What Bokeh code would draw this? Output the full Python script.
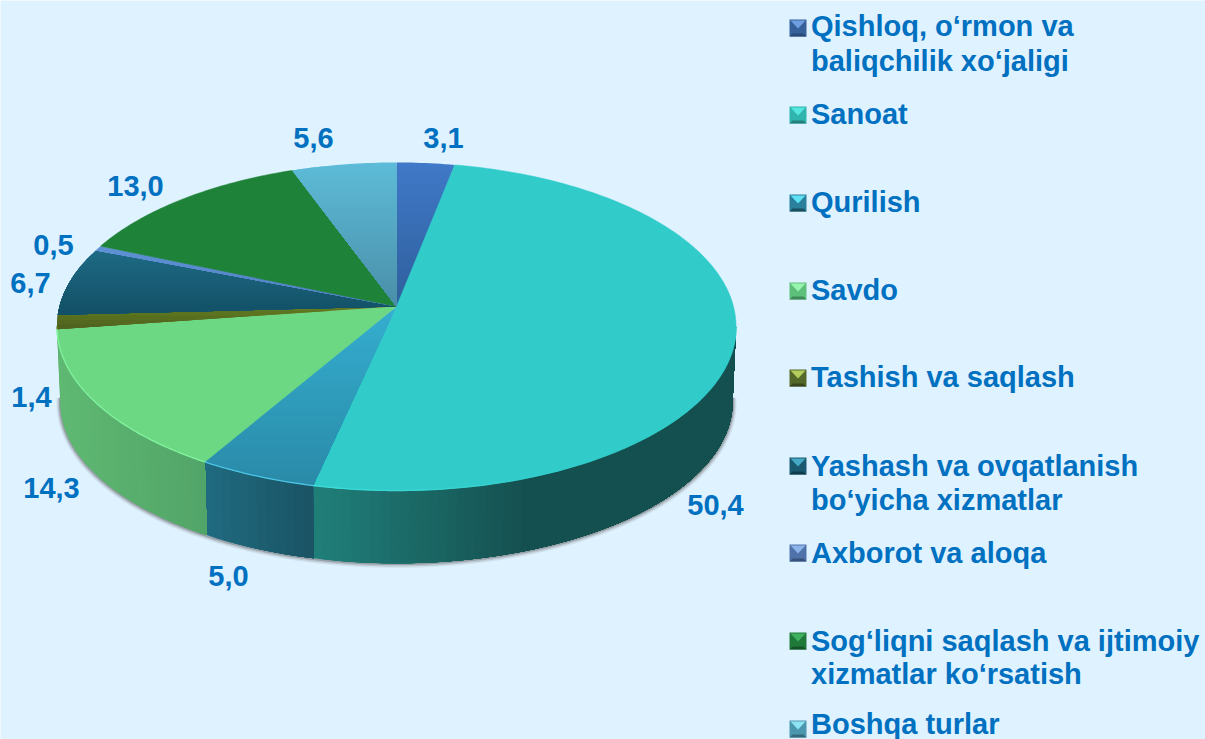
import math
from bokeh.plotting import figure
from bokeh.models import Range1d
from bokeh.embed import file_html
from bokeh.resources import INLINE
from bokeh.core.properties import value

categories = ["Qishloq, o‘rmon va\nbaliqchilik xo‘jaligi", "Sanoat", "Qurilish", "Savdo", "Tashish va saqlash",
              "Yashash va ovqatlanish\nbo‘yicha xizmatlar", "Axborot va aloqa",
              "Sog‘liqni saqlash va ijtimoiy\nxizmatlar ko‘rsatish", "Boshqa turlar"]
values = [3.1, 50.4, 5.0, 14.3, 1.4, 6.7, 0.5, 13.0, 5.6]
labels = ["3,1", "50,4", "5,0", "14,3", "1,4", "6,7", "0,5", "13,0", "5,6"]

# styling
BG = "#dff2ff"
TEXT = "#0070c0"
top_hi = ["#4079c8", "#31ccca", "#35aed0", "#6cd884", "#627d20", "#1e6a85", "#5f92d6", "#1f8239", "#5dbcd8"]
top_lo = ["#2f5f9c", "#31ccca", "#2a8aa8", "#6cd884", "#4f5f1e", "#125066", "#4f7fc0", "#1f8239", "#4a8ea8"]
side_a = ["#2f5f9c", "#207f7a", "#206b80", "#5fb972", "#4f5f1e", "#125066", "#4f7fc0", "#1a6a30", "#4a8ea8"]
side_b = ["#2f5f9c", "#155050", "#1a5364", "#52a468", "#4f5f1e", "#125066", "#4f7fc0", "#1a6a30", "#4a8ea8"]
rim = ["#4f8ad8", "#3fe0dc", "#4cc6e4", "#82f4a0", "#70902a", "#2a7f9c", "#6fa2e6", "#2a9a48", "#6cc8e4"]
mk_base = ["#37619a", "#2fb5ae", "#2a7f9a", "#5cc07a", "#54682a", "#1a5a70", "#4f72a8", "#1f7a3a", "#4b98ae"]
mk_light = ["#6f9fe0", "#55e6e0", "#5fe0f4", "#98f4ae", "#b4cc5c", "#45a8c4", "#8cb4ea", "#3fb060", "#8fe4f4"]
mk_dark = ["#2a4a78", "#237f7c", "#1a4f60", "#3f8a58", "#38461c", "#0f3d4e", "#36517a", "#145428", "#336a7c"]

W, H = 1205, 739
p = figure(width=W, height=H, x_range=Range1d(0, W), y_range=Range1d(H, 0), toolbar_location=None,
           output_backend="svg", min_border=0, background_fill_color=BG, border_fill_color=BG,
           outline_line_color=None, styles={"position": "absolute", "left": "0", "top": "0"})
p.axis.visible = False
p.grid.visible = False

CX, CY, A, B, K = 396.0, 306.0, 337.0, 161.6, 0.122
DY, SA, SB = 75.5, 0.99, 0.985
TXT_SHIFT = -10  # this renderer draws "alphabetic" text lower than the given y


def top_pt(f):
    t = 2 * math.pi * f
    u, v = math.sin(t), math.cos(t)
    w = 1 + K * v
    return CX + A * u / w, CY - B * v / w


def bot_pt(f):
    t = 2 * math.pi * f
    u, v = math.sin(t), math.cos(t)
    w = 1 + K * v
    return CX + SA * A * u / w, CY + DY - SB * B * v / w


def mix(c1, c2, t):
    t = max(0.0, min(1.0, t))
    a = [int(c1[i:i + 2], 16) for i in (1, 3, 5)]
    b = [int(c2[i:i + 2], 16) for i in (1, 3, 5)]
    return "#%02x%02x%02x" % tuple(round(x + (y - x) * t) for x, y in zip(a, b))


def clip(poly, y0, y1):
    def half(pts, keep, cross):
        out = []
        for i, q in enumerate(pts):
            r = pts[(i + 1) % len(pts)]
            if keep(q):
                out.append(q)
            if keep(q) != keep(r):
                s = (cross - q[1]) / (r[1] - q[1])
                out.append((q[0] + s * (r[0] - q[0]), cross))
        return out
    pts = half(poly, lambda q: q[1] >= y0, y0)
    return half(pts, lambda q: q[1] <= y1, y1) if pts else pts


total = sum(values)
fracs = [0.0]
for v in values:
    fracs.append(fracs[-1] + v / total)

F_L, F_R = 0.2695, 0.7305  # tangent points of the rim

# soft shadow below the wall
sf = [F_L - 0.005 + i * (F_R - F_L + 0.01) / 240 for i in range(241)]
for wd, al, off in [(6, 0.10, 1.5), (4, 0.18, 1.2), (2, 0.35, 0.8)]:
    sx = [bot_pt(f)[0] + (off if f < 0.5 else -off) * 0.6 for f in sf]
    sy = [bot_pt(f)[1] + off for f in sf]
    p.line(sx, sy, line_color="#555555", line_width=wd, line_alpha=al)

# side walls: every strip runs to the end of its slice, so no seams show
for i in range(len(values)):
    a, b = max(fracs[i], F_L), min(fracs[i + 1], F_R)
    if b <= a:
        continue
    xa, xb = top_pt(a)[0], top_pt(b)[0]
    # walk from the left end of the wall to its right end
    lo, hi = (b, a)
    n = max(2, int((b - a) * 250))
    xs, ys, cols = [], [], []
    for j in range(n):
        f0 = lo + (hi - lo) * j / n
        m = max(2, int(abs(hi - f0) * 300))
        arc = [f0 + (hi - f0) * q / m for q in range(m + 1)]
        t = [top_pt(f) for f in arc]
        d = [bot_pt(f) for f in arc]
        xs.append([q[0] for q in t] + [q[0] for q in reversed(d)])
        ys.append([q[1] for q in t] + [q[1] for q in reversed(d)])
        xm = top_pt(f0 + (hi - lo) * 0.5 / n)[0]
        if i == 1:
            tt = (xm - xb) / 215.0
        else:
            tt = (xm - min(xa, xb)) / max(1.0, abs(xa - xb))
        cols.append(mix(side_a[i], side_b[i], tt))
    p.patches(xs, ys, fill_color=cols, line_color=None)

# top faces
for i in range(len(values)):
    n = max(2, int((fracs[i + 1] - fracs[i]) * 400))
    rimpts = [top_pt(fracs[i] + (fracs[i + 1] - fracs[i]) * j / n) for j in range(n + 1)]
    poly = [(CX, CY)] + rimpts
    if top_hi[i] == top_lo[i]:
        p.patch([q[0] for q in poly], [q[1] for q in poly], fill_color=top_hi[i], line_color=top_hi[i], line_width=0.5)
        continue
    ymin, ymax = min(q[1] for q in poly), max(q[1] for q in poly)
    bands = max(2, int((ymax - ymin) / 4))
    xs, ys, cols = [], [], []
    for j in range(bands):
        y0 = ymin + (ymax - ymin) * j / bands
        part = clip(poly, y0, ymax + 1)
        if len(part) >= 3:
            xs.append([q[0] for q in part])
            ys.append([q[1] for q in part])
            cols.append(mix(top_hi[i], top_lo[i], (j + 0.5) / bands))
    p.patches(xs, ys, fill_color=cols, line_color=None)

# bright front rim, fading out along the big slice
for i in range(len(values)):
    a, b = max(fracs[i], F_L), min(fracs[i + 1], F_R)
    if b <= a:
        continue
    n = max(2, int((b - a) * 400))
    pts = [top_pt(a + (b - a) * j / n) for j in range(n + 1)]
    xs = [[pts[j][0], pts[j + 1][0]] for j in range(n)]
    ys = [[pts[j][1], pts[j + 1][1]] for j in range(n)]
    if i == 1:
        cols = [mix(top_hi[i], rim[i], (j / n - 0.55) / 0.45) for j in range(n)]
    else:
        cols = [rim[i]] * n
    p.multi_line(xs, ys, line_color=cols, line_width=1.3)

# data labels
lab_x = [443, 715, 228, 51, 31, 30, 53, 135, 313]
lab_y = [147, 514, 585, 497, 406, 292, 254, 195, 147]
p.text(lab_x, [y + TXT_SHIFT for y in lab_y], text=labels, text_color=TEXT, text_font=value("Liberation Sans"),
       text_font_style="bold", text_font_size="29px", text_align="center", text_baseline="alphabetic")

# legend
mk_x, mk_s = 789.0, 17.0
mk_y = [19, 106, 194, 282, 369, 457, 544, 632, 720]
base_y = [[35, 70], [123], [211], [299], [386], [475, 509], [562], [650, 683], [733]]
for i, c in enumerate(categories):
    x0, y0 = mk_x, mk_y[i]
    x1, y1 = x0 + mk_s, y0 + mk_s
    xc, yc = (x0 + x1) / 2, y0 + 9.0
    p.quad(left=x0, right=x1, top=y0, bottom=y1, fill_color=mk_base[i], line_color=None)
    p.patch([x0, x1, x1 - 3, x0 + 3], [y1, y1, y1 - 3, y1 - 3], fill_color=mk_dark[i], line_color=None)
    p.patch([x0 + 1, x1 - 1, xc], [y0 + 1, y0 + 1, yc], fill_color=mk_light[i], line_color=None)
    for line, by in zip(c.split("\n"), base_y[i]):
        p.text([810.5], [by + TXT_SHIFT], text=[line], text_color=TEXT, text_font=value("Liberation Sans"),
               text_font_style="bold", text_font_size="29px", text_align="left", text_baseline="alphabetic")

open("out.html", "w").write(file_html(p, INLINE))
